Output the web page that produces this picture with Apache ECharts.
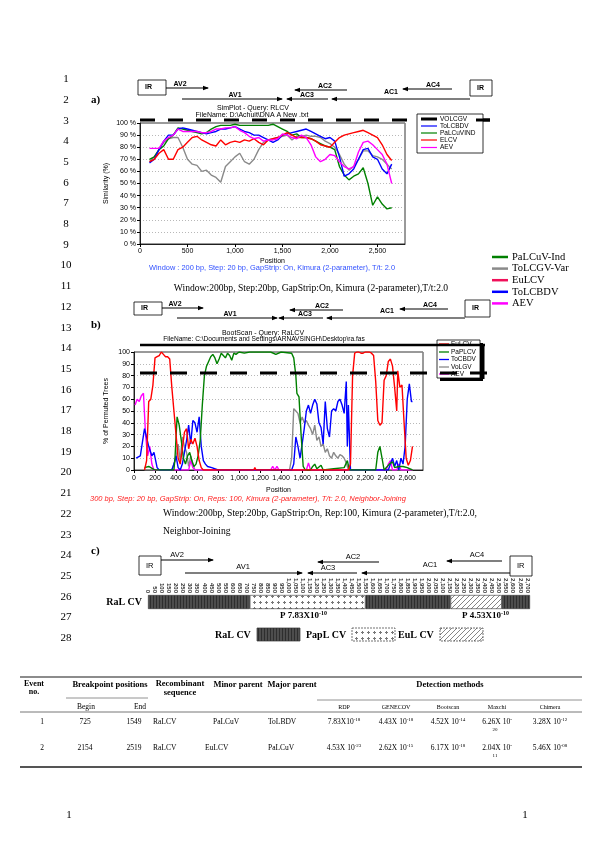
<!DOCTYPE html>
<html><head><meta charset="utf-8">
<script src="https://cdn.jsdelivr.net/npm/echarts@6/dist/echarts.min.js"></script>
<style>html,body{margin:0;padding:0;background:#fff}#c{width:600px;height:849px}</style>
</head><body><div id="c"></div>
<script>
// ---------------- DATA ----------------
// Panel a (SimPlot) – positions and similarity (%)
const posA = [100,150,200,250,300,350,400,450,500,550,600,650,700,750,800,850,900,950,1000,1050,1100,1150,1200,1250,1300,1350,1400,1450,1500,1550,1600,1650,1700,1750,1800,1850,1900,1950,2000,2050,2100,2150,2200,2250,2300,2350,2400,2450,2500,2550,2600,2650];
const simVOLCGV = [68,72,78,84,87,88,88,80,70,66,65,60,61,57,55,51,64,68,72,75,68,66,70,78,84,86,87,88,89,90,86,89,89,90,89,89,88,85,83,80,74,66,61,64,70,77,77,73,72,70,66,62];
const simToLCBDV = [67,70,78,85,90,90,95,96,95,94,93,92,91,92,93,95,95,96,97,95,93,92,90,90,88,86,84,86,90,91,92,93,94,95,93,91,89,87,88,85,72,56,58,62,70,78,79,72,70,62,58,66];
const simPaLCuVIND = [70,72,78,81,87,90,96,95,94,93,92,91,92,95,97,98,98,98,99,98,98,98,98,98,98,98,99,97,95,93,90,91,88,88,87,85,83,81,80,78,64,57,53,56,58,63,50,32,39,33,29,30];
const simELCV = [68,70,75,78,70,70,78,80,84,88,89,86,84,82,81,86,82,84,85,84,86,85,87,84,82,86,87,88,90,92,90,88,88,88,87,85,82,81,80,84,88,90,91,92,93,94,92,90,88,82,74,69];
const simAEV = [79,79,79,85,88,90,95,93,93,93,93,92,92,93,95,95,96,96,97,94,92,89,87,88,85,86,86,87,91,90,88,87,90,88,82,72,68,70,74,73,68,64,62,64,76,84,85,82,78,74,66,50];
const simNames = ['VOLCGV','ToLCBDV','PaLCuVIND','ELCV','AEV'];

// Panel b (BootScan) – [position, % of permuted trees]
const bootEuLCV = [[100,0],[120,8],[140,58],[160,60],[180,72],[200,95],[220,96],[240,97],[260,100],[280,98],[300,96],[320,96],[340,94],[360,70],[380,50],[400,30],[420,10],[440,5],[460,18],[480,32],[500,35],[520,18],[540,26],[560,22],[580,27],[600,20],[620,8],[640,2],[660,0],[1140,0],[1150,2],[1160,0],[2040,0],[2060,5],[2080,80],[2100,99],[2120,100],[2140,100],[2160,99],[2180,99],[2200,100],[2220,100],[2240,100],[2260,99],[2280,97],[2300,75],[2320,42],[2340,38],[2360,40],[2380,76],[2400,80],[2420,92],[2440,94],[2460,88],[2480,70],[2500,50],[2510,84],[2530,70],[2550,72],[2570,40],[2590,10],[2610,4],[2630,8],[2650,20]];
const bootPaPLCV = [[100,2],[140,3],[160,2],[180,1],[200,0],[380,0],[390,10],[410,45],[430,38],[450,25],[470,10],[490,5],[510,12],[530,15],[550,8],[570,3],[590,5],[610,12],[630,25],[650,55],[670,80],[690,88],[710,92],[730,96],[750,98],[770,95],[790,90],[810,94],[830,99],[850,97],[870,95],[890,99],[910,97],[930,93],[950,99],[970,98],[1000,100],[1050,99],[1100,100],[1150,100],[1200,100],[1300,100],[1350,98],[1400,100],[1500,99],[1520,95],[1540,80],[1550,65],[1570,62],[1590,30],[1610,3],[1630,0],[1680,0],[1700,3],[1720,5],[1740,1],[1780,4],[1800,0],[1900,1],[2000,2],[2030,8],[2050,0],[2300,0],[2320,15],[2340,20],[2360,10],[2380,0],[2430,5],[2460,7],[2480,2],[2520,3],[2560,3],[2600,2],[2650,0]];
const bootToCBDV = [[20,10],[60,12],[100,35],[140,20],[170,12],[190,15],[220,2],[240,0],[360,0],[380,5],[400,12],[420,2],[440,0],[460,5],[480,15],[500,25],[520,38],[540,22],[560,42],[580,40],[600,32],[620,45],[640,20],[660,8],[680,5],[700,3],[740,2],[800,0],[1500,0],[1520,5],[1540,28],[1560,20],[1580,10],[1600,22],[1620,35],[1640,50],[1660,55],[1680,48],[1700,55],[1720,60],[1740,56],[1760,40],[1780,36],[1800,22],[1820,58],[1840,35],[1860,28],[1880,50],[1900,52],[1920,50],[1940,58],[1960,60],[1980,55],[2000,48],[2020,75],[2030,20],[2040,55],[2060,0],[2420,0],[2440,5],[2460,10],[2480,3],[2500,8],[2520,0],[2540,10],[2560,5],[2580,20],[2600,60],[2620,73],[2640,58],[2650,58]];
const bootVoLGV = [[100,0],[360,0],[380,5],[400,10],[420,22],[440,8],[460,28],[480,20],[500,15],[520,3],[540,12],[560,5],[580,0],[1480,0],[1500,10],[1520,52],[1540,50],[1560,48],[1580,40],[1600,45],[1620,40],[1640,42],[1660,38],[1680,35],[1700,30],[1720,38],[1740,25],[1760,28],[1780,20],[1800,22],[1820,15],[1840,18],[1860,12],[1880,10],[1900,15],[1920,12],[1940,10],[1960,13],[1980,12],[2000,10],[2020,6],[2040,0],[2650,0]];
const bootAEV = [[10,55],[30,60],[50,58],[70,63],[90,65],[110,30],[130,12],[150,20],[170,5],[190,0],[520,0],[540,8],[560,2],[580,0],[1300,0],[1320,3],[1340,0],[1360,3],[1380,0],[1640,0],[1660,6],[1680,0],[2400,0],[2420,5],[2440,8],[2460,0],[2500,0],[2520,5],[2540,0],[2650,0]];
const bootNames = ['EuLCV','PaPLCV','ToCBDV','VoLGV','AEV'];

// Panel c – recombination map
const barBreaks = [0, 725, 1549, 2154, 2519, 2720];
const barParents = ['RaLCV','PapLCV','RaLCV','EuLCV','RaLCV'];
const barCategory = ['RaL CV'];
const pLabels = [['P 7.83X10','-10'],['P 4.53X10','-10']];

// Right-side legend of the figure
const figLegend = ['PaLCuV-Ind','ToLCGV-Var','EuLCV','ToLCBDV','AEV'];

// Table
const tEvent = ['1','2'];
const tBegin = ['725','2154'];
const tEnd = ['1549','2519'];
const tRec = ['RaLCV','RaLCV'];
const tMinor = ['PaLCuV','EuLCV'];
const tMajor = ['ToLBDV','PaLCuV'];
const tRDP = [['7.83X10','-18'],['4.53X 10','-23']];
const tGENECONV = [['4.43X 10','-18'],['2.62X 10','-15']];
const tBootscan = [['4.52X 10','-14'],['6.17X 10','-18']];
const tMaxchi = [['6.26X 10','-','20'],['2.04X 10','-','11']];
const tChimera = [['3.28X 10','-12'],['5.46X 10','-08']];
const tMethods = ['RDP','GENECOV','Bootscan','Maxchi','Chimera'];

// ---------------- DRAWING ----------------
const SANS = '"Liberation Sans", Arial, sans-serif';
const SERIF = '"Liberation Serif", "Times New Roman", serif';
const COL = {gray:'#8a8a8a', blue:'#0000ff', green:'#008000', red:'#ff0000', mag:'#ff00ff'};
const G = [];
function T(x,y,text,size,o){o=o||{};const st={text:text,fontSize:size,fontFamily:o.family||SERIF,fontWeight:o.weight||'normal',fontStyle:o.style||'normal',fill:o.color||'#000',align:o.align||'left',verticalAlign:'middle'};if(o.rich)st.rich=o.rich;G.push({type:'text',x:x,y:y,z:o.z||100,silent:true,style:st});}
function L(x1,y1,x2,y2,w,c,dash,z){G.push({type:'line',z:z||100,silent:true,shape:{x1:x1,y1:y1,x2:x2,y2:y2},style:{stroke:c||'#000',lineWidth:w||1,lineDash:dash||null}});}
function R(x,y,w,h,fill,stroke,lw,z){G.push({type:'rect',z:z||100,silent:true,shape:{x:x,y:y,width:w,height:h},style:{fill:fill||'none',stroke:stroke||null,lineWidth:lw||1}});}
function arrow(x1,x2,y,w){L(x1,y,x2,y,w||1.2);const d=x2>x1?1:-1;G.push({type:'polygon',z:100,silent:true,shape:{points:[[x2+d*1,y],[x2-d*5,y-2.3],[x2-d*5,y+2.3]]},style:{fill:'#000'}});}
function genomeMap(m){
  R(m.ir1[0],m.ir1[1],m.ir1[2],m.ir1[3],'#fff','#000',0.8);
  T(m.ir1[0]+7,m.ir1[1]+m.ir1[3]/2,'IR',m.fs,{family:SANS,weight:m.w});
  R(m.ir2[0],m.ir2[1],m.ir2[2],m.ir2[3],'#fff','#000',0.8);
  T(m.ir2[0]+7,m.ir2[1]+m.ir2[3]/2,'IR',m.fs,{family:SANS,weight:m.w});
  m.arrows.forEach(a=>{arrow(a[1],a[2],a[3]);T(a[4],a[5],a[0],m.fs,{family:SANS,weight:m.w,align:'center'});});
}
// line numbers
for(let n=1;n<=28;n++){T(66,100+(n-2)*20.7,String(n),11,{align:'center'});}
T(69,815,'1',11,{align:'center'});T(525,815,'1',11,{align:'center'});
// panel labels
T(91,100,'a)',11,{weight:'bold'});T(91,325,'b)',11,{weight:'bold'});T(91,551,'c)',11,{weight:'bold'});

// genome maps
genomeMap({fs:7,w:'bold',ir1:[138,80,28,15],ir2:[470,80,22,16],arrows:[
 ['AV2',166,208,88,180,84],['AV1',182,282,99,235,95],['AC3',328,287,99,307,95.5],
 ['AC2',347,295,90,325,86],['AC1',470,332,99,391,92],['AC4',452,403,89,433,85]]});
genomeMap({fs:7,w:'bold',ir1:[134,302,28,13],ir2:[465,300,25,17],arrows:[
 ['AV2',162,203,308,175,304],['AV1',177,277,318,230,314],['AC3',323,279,318,305,314],
 ['AC2',343,290,310,322,306],['AC1',465,327,318,387,311],['AC4',448,400,309,430,305]]});
genomeMap({fs:7.5,w:'normal',ir1:[139,556,22,19],ir2:[510,556,22,20],arrows:[
 ['AV2',161,213,560,177,555],['AV1',185,302,573,243,567],['AC3',357,308,573,328,568],
 ['AC2',379,318,562,353,557],['AC1',510,362,573,430,565],['AC4',502,447,561,477,555]]});

// panel a annotations
T(253,108,'SimPlot - Query: RLCV',7,{family:SANS,align:'center'});
T(252,115,'FileName: D:\\Achuit\\DNA A New .txt',7,{family:SANS,align:'center'});
L(140,120,490,120,3,'#000',[15,13],90);
R(417,114,66,39,'#fff','#000',0.8,95);
const legAcol = ['#000',COL.blue,COL.green,COL.red,COL.mag];
simNames.forEach((s,i)=>{const y=[119,126,133,140,147.5][i];L(421,y,437,y,i===0?3:1.2,legAcol[i],null,96);T(440,y,s,6.5,{family:SANS,z:96});});
L(476,120,490,120,3,'#000',null,97);
T(272,268,'Window : 200 bp, Step: 20 bp, GapStrip: On, Kimura (2-parameter), T/t: 2.0',7.4,{family:SANS,align:'center',color:'#3050ff'});
// figure legend (right)
const figCol=[COL.green,COL.gray,'#f0105a',COL.blue,COL.mag];
figLegend.forEach((s,i)=>{const y=257+i*11.6;L(492,y,508,y,2.5,figCol[i]);T(512,y,s,10.5);});
T(311,288,'Window:200bp, Step:20bp, GapStrip:On, Kimura (2-parameter),T/t:2.0',9.6,{align:'center'});

// panel b annotations
T(263,333,'BootScan - Query: RaLCV',7,{family:SANS,align:'center'});
T(264,339.5,'FileName: C:\\Documents and Settings\\ARNAVSINGH\\Desktop\\ra.fas',6.6,{family:SANS,align:'center'});
R(440,343,43,38,'#000',null,1,80);
R(437,340,43,38,'#fff','#000',0.8,81);
const legBcol=[COL.red,COL.green,COL.blue,COL.gray,COL.mag];
bootNames.forEach((s,i)=>{const y=[344,352,359.5,367,374][i];L(439,y,449,y,1.3,legBcol[i],null,82);T(451,y,s,6.5,{family:SANS,z:82});});
L(140,345,485,345,2.5,'#000',null,85);
L(483,344,483,379,3,'#000',null,85);
L(140,373,492,373,3,'#000',[17,13],86);
T(90,499,'300 bp, Step: 20 bp, GapStrip: On, Reps: 100, Kimura (2-parameter), T/t: 2.0, Neighbor-Joining',7.5,{family:SANS,style:'italic',color:'#ff2020'});
T(163,513,'Window:200bp, Step:20bp, GapStrip:On, Rep:100, Kimura (2-parameter),T/t:2.0,',9.6);
T(163,531,'Neighbor-Joining',9.6);

// patterns
function pat(kind){const c=document.createElement('canvas');const x=c.getContext('2d');
 if(kind==='RaLCV'){c.width=3;c.height=3;x.fillStyle='#4d4d4d';x.fillRect(0,0,3,3);x.fillStyle='#2e2e2e';x.fillRect(0,0,1,3);}
 else if(kind==='PapLCV'){c.width=6;c.height=6;x.fillStyle='#fff';x.fillRect(0,0,6,6);x.fillStyle='#777';x.fillRect(2,1,1,3);x.fillRect(1,2,3,1);}
 else {c.width=5;c.height=5;x.fillStyle='#fff';x.fillRect(0,0,5,5);x.strokeStyle='#777';x.lineWidth=0.9;x.beginPath();x.moveTo(0,5);x.lineTo(5,0);x.moveTo(-1,1);x.lineTo(1,-1);x.moveTo(4,6);x.lineTo(6,4);x.stroke();}
 return {image:c,repeat:'repeat'};}
const PAT={RaLCV:pat('RaLCV'),PapLCV:pat('PapLCV'),EuLCV:pat('EuLCV')};
const rich={sup:{fontSize:6,verticalAlign:'top',padding:[0,0,6,0],fontFamily:SERIF,fontWeight:'bold'}};
T(280,616,pLabels[0][0]+'{sup|'+pLabels[0][1]+'}',9,{weight:'bold',rich:rich});
T(462,616,pLabels[1][0]+'{sup|'+pLabels[1][1]+'}',9,{weight:'bold',rich:rich});
// legend c
const legC=[['RaL CV','RaLCV',215,257],['PapL CV','PapLCV',306,352],['EuL CV','EuLCV',398,440]];
legC.forEach(l=>{T(l[2],635,l[0],10,{weight:'bold'});G.push({type:'rect',z:100,silent:true,shape:{x:l[3],y:628,width:43,height:13},style:{fill:PAT[l[1]],stroke:'#333',lineWidth:0.7,lineDash:l[1]==='RaLCV'?null:[2,1]}});});

// table
const TL=20,TR=582;
L(TL,677,TR,677,1.4,'#666');
T(34,684,'Event',8,{weight:'bold',align:'center'});T(34,692,'no.',8,{weight:'bold',align:'center'});
T(110,685,'Breakpoint positions',8.5,{weight:'bold',align:'center'});
L(66,698,148,698,0.8,'#777');
T(86,707,'Begin',7.5,{align:'center'});T(140,707,'End',7.5,{align:'center'});
T(180,684,'Recombinant',8.5,{weight:'bold',align:'center'});T(180,693,'sequence',8.5,{weight:'bold',align:'center'});
T(238,685,'Minor parent',8.5,{weight:'bold',align:'center'});
T(292,685,'Major parent',8.5,{weight:'bold',align:'center'});
T(450,685,'Detection methods',8.5,{weight:'bold',align:'center'});
L(317,700,TR,700,0.8,'#777');
const mX=[344,396,448,497,550];
tMethods.forEach((s,i)=>T(mX[i],707,s,6,{align:'center'}));
L(TL,712,TR,712,1,'#777');
const rowY=[722,748];
const sup2={sup:{fontSize:5,verticalAlign:'top',padding:[0,0,5,0],fontFamily:SERIF}};
for(let r=0;r<2;r++){const y=rowY[r];
 T(42,y,tEvent[r],7.5,{align:'center'});T(85,y,tBegin[r],7.5,{align:'center'});T(134,y,tEnd[r],7.5,{align:'center'});
 T(153,y,tRec[r],7.5);T([213,205][r],y,tMinor[r],7.5);T(268,y,tMajor[r],7.5);
 [tRDP,tGENECONV,tBootscan,tChimera].forEach((arr,k)=>{const cx=[mX[0],mX[1],mX[2],mX[4]][k];T(cx,y,arr[r][0]+'{sup|'+arr[r][1]+'}',7.5,{align:'center',rich:sup2});});
 T(mX[3],y,tMaxchi[r][0]+'{sup|'+tMaxchi[r][1]+'}',7.5,{align:'center',rich:sup2});
 T(mX[3]-2,y+8,tMaxchi[r][2],5,{align:'center'});
}
L(TL,767,TR,767,2,'#555');

function comma(v){return v>=1000?Math.floor(v/1000)+','+String(v%1000).padStart(3,'0'):String(v);}
const axLab={fontSize:7,fontFamily:SANS,color:'#000'};
const chart=echarts.init(document.getElementById('c'),null,{renderer:'canvas',width:600,height:849});
function ls(c){return {type:'line',showSymbol:false,symbol:'none',lineStyle:{width:1.4,color:c},itemStyle:{color:c},animation:false};}
const seriesA=[[simVOLCGV,COL.gray],[simPaLCuVIND,COL.green],[simToLCBDV,COL.blue],[simELCV,COL.red],[simAEV,COL.mag]].map(d=>Object.assign(ls(d[1]),{xAxisIndex:0,yAxisIndex:0,data:posA.map((p,i)=>[p,d[0][i]])}));
const seriesB=[[bootVoLGV,COL.gray],[bootAEV,COL.mag],[bootToCBDV,COL.blue],[bootPaPLCV,COL.green],[bootEuLCV,COL.red]].map(d=>Object.assign(ls(d[1]),{xAxisIndex:1,yAxisIndex:1,data:d[0]}));
const seriesC=barParents.map((p,i)=>({type:'bar',xAxisIndex:2,yAxisIndex:2,stack:'c',barWidth:'100%',animation:false,data:[barBreaks[i+1]-barBreaks[i]],itemStyle:{color:PAT[p],borderColor:'#333',borderWidth:0.6}}));
chart.setOption({
 animation:false,
 grid:[
  {left:140,top:123,width:265,height:121,show:true,borderColor:'#000',borderWidth:0.8,containLabel:false},
  {left:134,top:352,width:289,height:118,show:true,borderColor:'#000',borderWidth:0.8,containLabel:false},
  {left:148,top:595,width:382,height:14,containLabel:false}
 ],
 xAxis:[
  {gridIndex:0,type:'value',min:0,max:2790,interval:500,name:'Position',nameLocation:'middle',nameGap:14,nameTextStyle:axLab,
   axisLabel:Object.assign({formatter:comma,showMaxLabel:false,margin:4},axLab),axisLine:{lineStyle:{color:'#000',width:0.8}},axisTick:{length:3,lineStyle:{color:'#000'}},splitLine:{show:false}},
  {gridIndex:1,type:'value',min:0,max:2750,interval:200,name:'Position',nameLocation:'middle',nameGap:17,nameTextStyle:axLab,
   axisLabel:Object.assign({formatter:comma,showMaxLabel:false,margin:5},axLab),axisLine:{lineStyle:{color:'#000',width:0.8}},axisTick:{length:3,lineStyle:{color:'#000'}},splitLine:{show:false}},
  {gridIndex:2,type:'value',min:0,max:2720,interval:50,position:'top',axisLine:{show:false},axisTick:{show:false},splitLine:{show:false},
   axisLabel:{rotate:90,fontSize:6,fontFamily:SANS,fontWeight:'bold',color:'#333',margin:2,showMaxLabel:false}}
 ],
 yAxis:[
  {gridIndex:0,type:'value',min:0,max:100,interval:10,name:'Similarity (%)',nameLocation:'middle',nameGap:30,nameTextStyle:axLab,
   axisLabel:Object.assign({formatter:'{value} %',margin:4},axLab),axisLine:{show:true,lineStyle:{color:'#000',width:0.8}},axisTick:{show:true,length:3,lineStyle:{color:'#000'}},
   splitLine:{show:true,lineStyle:{color:'#999',width:0.7,type:[1,2]}}},
  {gridIndex:1,type:'value',min:0,max:100,interval:10,name:'% of Permuted Trees',nameLocation:'middle',nameGap:24,nameTextStyle:axLab,
   axisLabel:Object.assign({margin:4},axLab),axisLine:{show:true,lineStyle:{color:'#000',width:0.8}},axisTick:{show:true,length:3,lineStyle:{color:'#000'}},
   splitLine:{show:true,lineStyle:{color:'#999',width:0.7,type:[1,2]}}},
  {gridIndex:2,type:'category',data:barCategory,axisLine:{show:false},axisTick:{show:false},
   axisLabel:{fontSize:10,fontFamily:SERIF,fontWeight:'bold',color:'#000',margin:6}}
 ],
 series:seriesA.concat(seriesB).concat(seriesC),
 graphic:{elements:G}
});
</script></body></html>
